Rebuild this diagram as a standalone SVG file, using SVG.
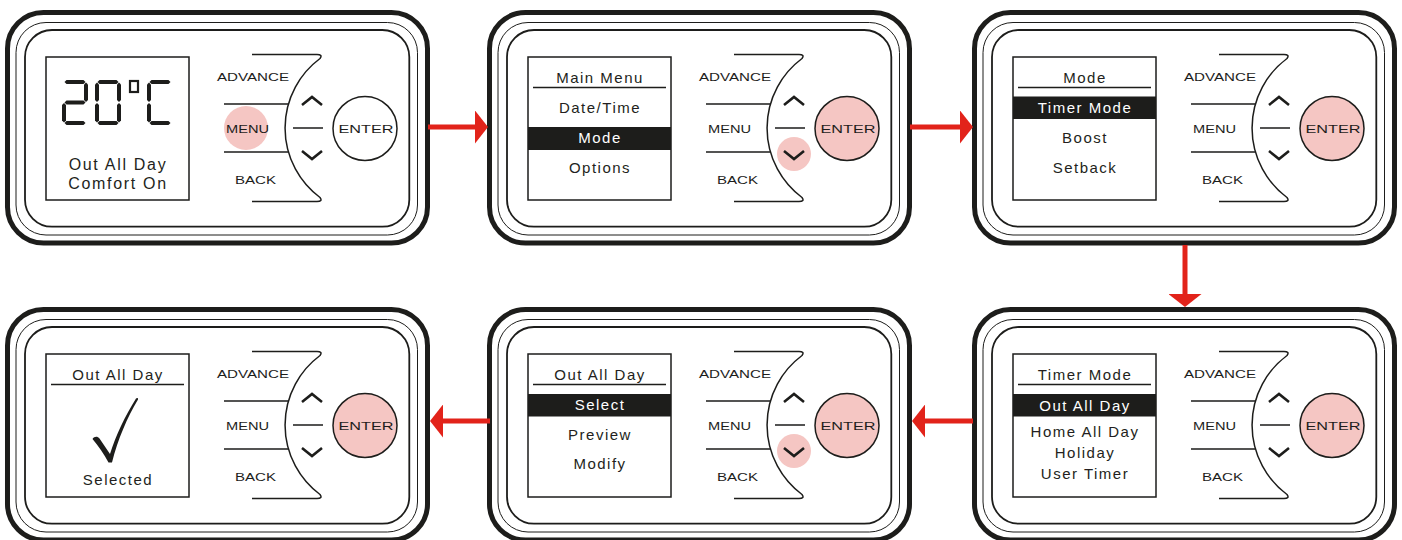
<svg xmlns="http://www.w3.org/2000/svg" xmlns:xlink="http://www.w3.org/1999/xlink" width="1402" height="540" viewBox="0 0 1402 540">
<style>
.thick{fill:none;stroke:#1d1d1b;stroke-width:5}
.thin{fill:none;stroke:#1d1d1b;stroke-width:1}
.mid{fill:none;stroke:#1d1d1b;stroke-width:1.8}
.ln{fill:none;stroke:#1d1d1b;stroke-width:1.5}
.chev{fill:none;stroke:#1d1d1b;stroke-width:2.6}
.btn{font-family:"Liberation Sans",Arial,sans-serif;font-size:11px;fill:#1d1d1b}
.scr{font-family:"Liberation Sans",Arial,sans-serif;font-size:15px;letter-spacing:1.5px;fill:#231f20;text-anchor:middle}
.big{font-size:16px;letter-spacing:1.7px}
.inv{fill:#ffffff}
.bar{fill:#1d1d1b}
.pink{fill:#f5c6c3}
.seg{fill:#1d1d1b}
.arrow{stroke:#e2231a;stroke-width:5;fill:none}
</style>
<defs>
<marker id="ah" viewBox="0 0 13 33" refX="0" refY="16.5" markerWidth="13" markerHeight="33" orient="auto" markerUnits="userSpaceOnUse">
<path d="M0,0 L13,16.5 L0,33 Z" fill="#e2231a"/>
</marker>
<g id="device">
<rect class="thick" x="7.5" y="12.5" width="420" height="230.5" rx="36"/>
<rect class="thin" x="16" y="22.5" width="401.5" height="212.5" rx="30"/>
<rect class="mid" x="25" y="30" width="384.3" height="196.7" rx="27"/>
<rect class="ln" x="46" y="57" width="143" height="143"/>
<path class="ln" d="M252,54.5 H317 Q323,54.5 320,58.5 A86.6,86.6 0 0 0 320,197.5 Q323,201.5 317,201.5 H252"/>
<path class="ln" d="M224,104 H288.4 M224,152 H288.4 M293,128 H323"/>
<path class="chev" d="M302,105 L312,97 L322,105 M302,151 L312,159 L322,151"/>
<circle class="ln" cx="365" cy="128.5" r="32"/>
<text class="btn" x="217" y="81" textLength="72" lengthAdjust="spacingAndGlyphs">ADVANCE</text>
<text class="btn" x="226" y="132.5" textLength="43" lengthAdjust="spacingAndGlyphs">MENU</text>
<text class="btn" x="235" y="183.5" textLength="41" lengthAdjust="spacingAndGlyphs">BACK</text>
<text class="btn" x="338.5" y="132.5" textLength="55" lengthAdjust="spacingAndGlyphs">ENTER</text>
</g>
</defs>
<rect width="1402" height="540" fill="#ffffff"/>

<g id="panel-home" transform="translate(0,0)">
<circle class="pink" cx="246" cy="128" r="22"/>
<use xlink:href="#device" href="#device"/>
<g class="seg">
<polygon points="64.5,82 66.5,80 83.5,80 85.5,82 83.5,84 66.5,84"/>
<polygon points="86,82.5 88,84.5 88,100 86,102 84,100 84,84.5"/>
<polygon points="64.5,102.5 66.5,100.5 83.5,100.5 85.5,102.5 83.5,104.5 66.5,104.5"/>
<polygon points="64,103 66,105 66,120.5 64,122.5 62,120.5 62,105"/>
<polygon points="64.5,123 66.5,121 83.5,121 85.5,123 83.5,125 66.5,125"/>
<polygon points="97.5,82 99.5,80 116.5,80 118.5,82 116.5,84 99.5,84"/>
<polygon points="119,82.5 121,84.5 121,100 119,102 117,100 117,84.5"/>
<polygon points="119,103 121,105 121,120.5 119,122.5 117,120.5 117,105"/>
<polygon points="97.5,123 99.5,121 116.5,121 118.5,123 116.5,125 99.5,125"/>
<polygon points="97,103 99,105 99,120.5 97,122.5 95,120.5 95,105"/>
<polygon points="97,82.5 99,84.5 99,100 97,102 95,100 95,84.5"/>
<polygon points="149.5,82 151.5,80 168.5,80 170.5,82 168.5,84 151.5,84"/>
<polygon points="149,82.5 151,84.5 151,100 149,102 147,100 147,84.5"/>
<polygon points="149,103 151,105 151,120.5 149,122.5 147,120.5 147,105"/>
<polygon points="149.5,123 151.5,121 168.5,121 170.5,123 168.5,125 151.5,125"/>
</g>
<rect x="130" y="81" width="8" height="11" fill="none" stroke="#1d1d1b" stroke-width="2.2"/>
<text class="scr big" x="118" y="170">Out All Day</text>
<text class="scr big" x="118" y="188.5">Comfort On</text>
</g>

<g id="panel-main-menu" transform="translate(482,0)">
<circle class="pink" cx="312" cy="154" r="17"/>
<circle class="pink" cx="365" cy="128.5" r="32"/>
<use xlink:href="#device" href="#device"/>
<text class="scr" x="118" y="83">Main Menu</text>
<path class="ln" d="M51,87.5 H184"/>
<text class="scr" x="118" y="113">Date/Time</text>
<rect class="bar" x="46" y="127" width="143" height="23"/>
<text class="scr inv" x="118" y="143">Mode</text>
<text class="scr" x="118" y="173">Options</text>
</g>

<g id="panel-mode" transform="translate(967,0)">
<circle class="pink" cx="365" cy="128.5" r="32"/>
<use xlink:href="#device" href="#device"/>
<text class="scr" x="118" y="83">Mode</text>
<path class="ln" d="M51,87.5 H184"/>
<rect class="bar" x="46" y="96.5" width="143" height="22.5"/>
<text class="scr inv" x="118" y="113">Timer Mode</text>
<text class="scr" x="118" y="143">Boost</text>
<text class="scr" x="118" y="173">Setback</text>
</g>

<g id="panel-timer-mode" transform="translate(967,297)">
<circle class="pink" cx="365" cy="128.5" r="32"/>
<use xlink:href="#device" href="#device"/>
<text class="scr" x="118" y="83">Timer Mode</text>
<path class="ln" d="M51,87.5 H184"/>
<rect class="bar" x="46" y="97" width="143" height="22.5"/>
<text class="scr inv" x="118" y="114">Out All Day</text>
<text class="scr" x="118" y="140">Home All Day</text>
<text class="scr" x="118" y="161">Holiday</text>
<text class="scr" x="118" y="182">User Timer</text>
</g>

<g id="panel-out-all-day" transform="translate(482,297)">
<circle class="pink" cx="312" cy="154" r="17"/>
<circle class="pink" cx="365" cy="128.5" r="32"/>
<use xlink:href="#device" href="#device"/>
<text class="scr" x="118" y="83">Out All Day</text>
<path class="ln" d="M51,87.5 H184"/>
<rect class="bar" x="46" y="97" width="143" height="22.5"/>
<text class="scr inv" x="118" y="113">Select</text>
<text class="scr" x="118" y="142.5">Preview</text>
<text class="scr" x="118" y="172">Modify</text>
</g>

<g id="panel-selected" transform="translate(0,297)">
<circle class="pink" cx="365" cy="128.5" r="32"/>
<use xlink:href="#device" href="#device"/>
<text class="scr" x="118" y="83">Out All Day</text>
<path class="ln" d="M51,87.5 H184"/>
<path fill="#1d1d1b" d="M92.5,142 C94,139.5 97.5,139 99.5,141.5 L110,157 C116,138 125,119 136,101.5 C137,100.5 138.5,101 138,102.5 C127,121 118,142 112,165.5 L108.5,165.5 C104,157 98.5,149 92.5,142 Z"/>
<text class="scr" x="118" y="188">Selected</text>
</g>

<g id="connectors">
<line class="arrow" x1="428" y1="127" x2="475" y2="127" marker-end="url(#ah)"/>
<line class="arrow" x1="910" y1="127" x2="960" y2="127" marker-end="url(#ah)"/>
<line class="arrow" x1="1185" y1="245" x2="1185" y2="294" marker-end="url(#ah)"/>
<line class="arrow" x1="973" y1="421" x2="925" y2="421" marker-end="url(#ah)"/>
<line class="arrow" x1="490" y1="421" x2="443" y2="421" marker-end="url(#ah)"/>
</g>
</svg>
